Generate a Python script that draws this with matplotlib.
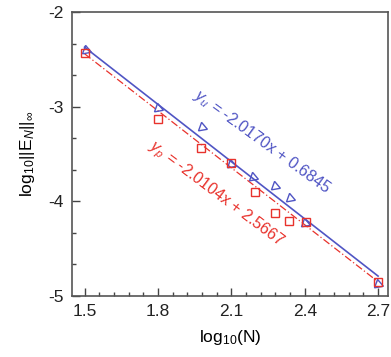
import matplotlib
matplotlib.use("Agg")
import matplotlib.pyplot as plt
from matplotlib.ticker import MultipleLocator

plt.rcParams['font.family'] = ['Liberation Sans', 'DejaVu Sans']
plt.rcParams['mathtext.fontset'] = 'custom'
plt.rcParams['mathtext.rm'] = 'Liberation Sans'
plt.rcParams['mathtext.it'] = 'Liberation Sans:italic'
plt.rcParams['axes.unicode_minus'] = False

# data
logN_u = [1.507, 1.80, 1.98, 2.10, 2.19, 2.277, 2.34, 2.40, 2.70]
err_u = [-2.40, -3.015, -3.215, -3.60, -3.74, -3.84, -3.96, -4.23, -4.87]
logN_p = [1.503, 1.80, 1.976, 2.097, 2.196, 2.277, 2.337, 2.405, 2.70]
err_p = [-2.43, -3.13, -3.44, -3.597, -3.90, -4.125, -4.21, -4.22, -4.85]

# fitted lines (end points)
fit_x = [1.5, 2.7]
fit_u = [-2.37, -4.79]
fit_p = [-2.44, -4.85]

label_u = r'$y_u$ = -2.0170x + 0.6845'
label_p = r'$y_p$ = -2.0104x + 2.5667'

blue = '#5055c4'
red = '#e8322c'

fig = plt.figure(figsize=(3.91, 3.57), dpi=100)
ax = fig.add_axes([0.185, 0.171, 0.807, 0.795])

ax.plot(fit_x, fit_u, color=blue, lw=1.2)
ax.plot(fit_x, fit_p, color=red, lw=0.9, ls=(0, (6, 2, 1, 2)))
ax.plot(logN_u, err_u, ls='none', marker=(3, 0, -110), ms=7.5, mfc='none',
        mec=blue, mew=1.0)
ax.plot(logN_p, err_p, ls='none', marker='s', ms=6, mfc='none',
        mec=red, mew=1.0)

ax.text(2.225, -3.37, label_u, color=blue, fontsize=11.5, rotation=-36,
        ha='center', va='center', rotation_mode='anchor')
ax.text(2.035, -3.92, label_p, color=red, fontsize=11.5, rotation=-37,
        ha='center', va='center', rotation_mode='anchor')

ax.set_xlim(1.45, 2.74)
ax.set_ylim(-5, -2)
ax.xaxis.set_major_locator(MultipleLocator(0.3))
ax.xaxis.set_minor_locator(MultipleLocator(0.06))
ax.yaxis.set_major_locator(MultipleLocator(1))
ax.yaxis.set_minor_locator(MultipleLocator(1 / 3))
ax.tick_params(which='both', direction='in', top=False, right=False,
               labelsize=12.5, color='#444444', labelcolor='#222222', pad=6)
ax.tick_params(which='major', length=6, width=1)
ax.tick_params(which='minor', length=3, width=1)
for s in ax.spines.values():
    s.set_color('#555555')
    s.set_linewidth(1.2)

ax.set_xlabel(r'log$_{10}$(N)', fontsize=12.5, labelpad=6)
ax.set_ylabel(r'log$_{10}$||E$_N$||$_\infty$', fontsize=12.5, labelpad=8)

fig.savefig('out.png', dpi=100)
